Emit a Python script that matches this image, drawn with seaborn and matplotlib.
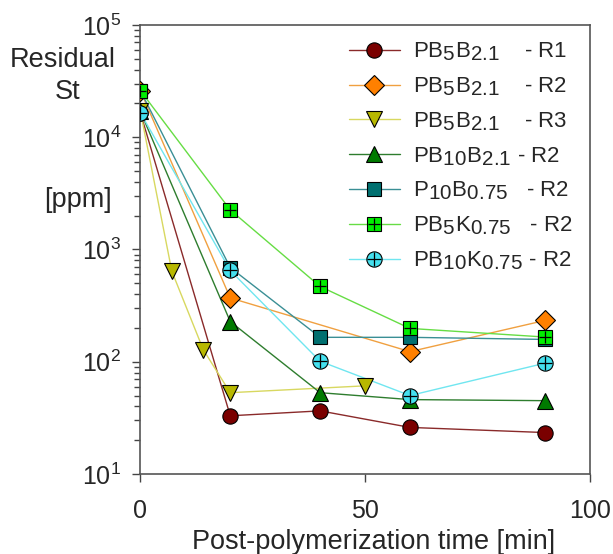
import matplotlib
matplotlib.use("Agg")
import matplotlib.pyplot as plt
import matplotlib._mathtext as mathtext_internal
from matplotlib.lines import Line2D
from matplotlib.ticker import LogLocator, FixedLocator, NullLocator
import seaborn as sns
import pandas as pd

# series data (time in min, residual styrene in ppm)
t_r1 = [0, 20, 40, 60, 90]
ppm_r1 = [16500, 33, 36.5, 26, 23.4]

t_b5_r2 = [0, 20, 60, 90]
ppm_b5_r2 = [26000, 370, 123, 233]

t_b5_r3 = [0, 7, 14, 20, 50]
ppm_b5_r3 = [17000, 640, 128, 53, 61]

t_b10_r2 = [0, 20, 40, 60, 90]
ppm_b10_r2 = [17000, 228, 53, 46, 45]

t_p10_r2 = [0, 20, 40, 60, 90]
ppm_p10_r2 = [26000, 690, 165, 165, 158]

t_k5_r2 = [0, 20, 40, 60, 90]
ppm_k5_r2 = [26000, 2250, 468, 198, 166]

t_k10_r2 = [0, 20, 40, 60, 90]
ppm_k10_r2 = [16500, 650, 101, 50, 97]

labels = [
    r"PB$_5$B$_{2.1}$    - R1",
    r"PB$_5$B$_{2.1}$    - R2",
    r"PB$_5$B$_{2.1}$    - R3",
    r"PB$_{10}$B$_{2.1}$ - R2",
    r"P$_{10}$B$_{0.75}$   - R2",
    r"PB$_5$K$_{0.75}$   - R2",
    r"PB$_{10}$K$_{0.75}$ - R2",
]

sns.set_theme(style="ticks")
plt.rcParams["font.family"] = ["Liberation Sans", "DejaVu Sans"]
plt.rcParams["mathtext.fontset"] = "custom"
plt.rcParams["mathtext.rm"] = "Liberation Sans"
plt.rcParams["mathtext.it"] = "Liberation Sans"
plt.rcParams["mathtext.default"] = "regular"

series = [
    (t_r1, ppm_r1, "#7a0000", "#8a2a2a", "o", None),
    (t_b5_r2, ppm_b5_r2, "#ff8000", "#f0a040", "D", None),
    (t_b5_r3, ppm_b5_r3, "#b8b800", "#d8d860", "v", None),
    (t_b10_r2, ppm_b10_r2, "#007a00", "#2e7d2e", "^", None),
    (t_p10_r2, ppm_p10_r2, "#007070", "#3a8f95", "s", None),
    (t_k5_r2, ppm_k5_r2, "#00ee00", "#66dd44", "s", "+"),
    (t_k10_r2, ppm_k10_r2, "#44e0ee", "#70e6f0", "o", "+"),
]
msize = {"o": 11, "D": 10, "v": 11, "^": 11, "s": 10}

fig = plt.figure(figsize=(6.13, 5.54), dpi=100)
ax = fig.add_axes([0.229, 0.1444, 0.733, 0.8106])

handles = []
for (t, y, fc, lc, mk, over), lab in zip(series, labels):
    df = pd.DataFrame({"t": t, "ppm": y})
    sns.lineplot(data=df, x="t", y="ppm", ax=ax, color=lc, lw=1.0,
                 sort=False, estimator=None, zorder=2)
    ax.plot(df["t"], df["ppm"], ls="none", marker=mk, ms=msize[mk],
            mfc=fc, mec="black", mew=0.8, zorder=3)
    h = Line2D([], [], color=lc, lw=1.0, marker=mk, ms=msize[mk],
               mfc=fc, mec="black", mew=0.8)
    if over:
        ax.plot(df["t"], df["ppm"], ls="none", marker=over,
                ms=msize[mk] - 1, mec="black", mew=0.9, zorder=4)
        h2 = Line2D([], [], ls="none", marker=over, ms=msize[mk] - 1,
                    mec="black", mew=0.9)
        h = (h, h2)
    handles.append(h)

ax.set_yscale("log")
ax.set_xlim(0, 100)
ax.set_ylim(10, 1e5)
ax.xaxis.set_major_locator(FixedLocator([0, 50, 100]))
ax.xaxis.set_minor_locator(NullLocator())
ax.yaxis.set_major_locator(LogLocator(base=10, numticks=10))
ax.yaxis.set_minor_locator(LogLocator(base=10, subs=range(2, 10), numticks=10))
ax.tick_params(axis="both", which="major", direction="out", length=6,
               width=1, color="#444444", labelsize=18)
ax.tick_params(axis="x", which="major", pad=12)
ax.tick_params(axis="y", which="major", pad=8)
ax.tick_params(axis="y", which="minor", direction="out", length=4,
               width=1, color="#444444")
for s in ax.spines.values():
    s.set_color("#555555")
    s.set_linewidth(1.2)

ax.set_xlabel("Post-polymerization time [min]", fontsize=19.5)
ax.xaxis.set_label_coords(0.518, -0.122)
ax.set_ylabel("")
fig.text(0.103, 0.892, "Residual", fontsize=19.5, ha="center", va="center")
fig.text(0.110, 0.834, "St", fontsize=19.5, ha="center", va="center")
fig.text(0.127, 0.639, "[ppm]", fontsize=19.5, ha="center", va="center")

leg = ax.legend(handles, labels, loc="upper right", frameon=False,
                fontsize=16, handlelength=2.3, handletextpad=0.6,
                labelspacing=0.55, borderaxespad=0,
                bbox_to_anchor=(0.982, 0.985))

# subscripts in the original legend are nearly full size
legend_draw = leg.draw


def draw_with_big_subscripts(renderer):
    old = mathtext_internal.SHRINK_FACTOR
    mathtext_internal.SHRINK_FACTOR = 0.93
    try:
        legend_draw(renderer)
    finally:
        mathtext_internal.SHRINK_FACTOR = old


leg.draw = draw_with_big_subscripts

fig.savefig("out.png", dpi=100)
